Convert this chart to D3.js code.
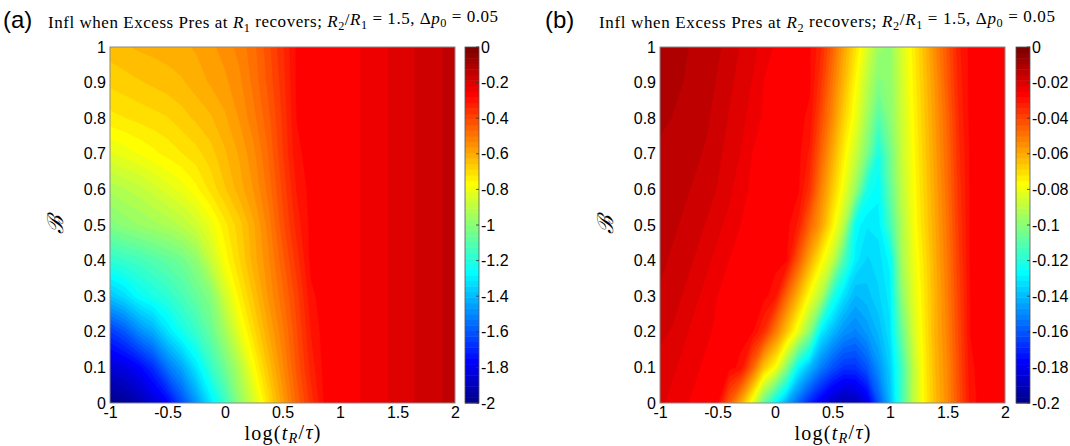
<!DOCTYPE html>
<html>
<head>
<meta charset="utf-8">
<script src="https://cdn.jsdelivr.net/npm/d3@7"></script>
<style>
  body { margin: 0; background: #fff; }
  svg text { font-family: "Liberation Sans", Arial, sans-serif; fill: #000; }
  .serif { font-family: "Liberation Serif", "Times New Roman", serif; }
</style>
</head>
<body>
<svg id="chart" width="1070" height="446"></svg>
<script>
// ---- data ----
// x = log(tR/tau), y = B (rows go from B = 0 upwards)
const xTicks = [-1, -0.5, 0, 0.5, 1, 1.5, 2];
const xTickLabels = ["-1", "-0.5", "0", "0.5", "1", "1.5", "2"];
const yTicks = [0, 0.1, 0.2, 0.3, 0.4, 0.5, 0.6, 0.7, 0.8, 0.9, 1];
const yTickLabels = ["0", "0.1", "0.2", "0.3", "0.4", "0.5", "0.6", "0.7", "0.8", "0.9", "1"];

// panel (a): Excess Pres at R1
const aCols = [-1, -0.875, -0.75, -0.625, -0.5, -0.375, -0.25, -0.125, 0, 0.125, 0.25, 0.375, 0.5,
  0.625, 0.75, 0.875, 1, 1.125, 1.25, 1.375, 1.5, 1.625, 1.75, 1.875, 2];
const aRows = [0, 0.1, 0.2, 0.3, 0.4, 0.5, 0.6, 0.7, 0.8, 0.9, 1];
const aValues = [
  [-2.0, -1.97, -1.92, -1.85, -1.77, -1.62, -1.47, -1.31, -1.16, -0.99, -0.85, -0.71, -0.58, -0.46, -0.36, -0.27, -0.262, -0.255, -0.243, -0.225, -0.208, -0.19, -0.175, -0.158, -0.145],
  [-1.85, -1.82, -1.77, -1.68, -1.54, -1.44, -1.31, -1.17, -1.05, -0.92, -0.77, -0.65, -0.54, -0.43, -0.33, -0.265, -0.262, -0.255, -0.243, -0.225, -0.208, -0.19, -0.175, -0.158, -0.145],
  [-1.66, -1.6, -1.5, -1.43, -1.32, -1.23, -1.16, -1.07, -0.95, -0.81, -0.70, -0.6, -0.51, -0.41, -0.31, -0.262, -0.262, -0.255, -0.243, -0.225, -0.208, -0.19, -0.175, -0.158, -0.145],
  [-1.38, -1.33, -1.26, -1.22, -1.18, -1.13, -1.07, -1.01, -0.86, -0.74, -0.65, -0.56, -0.48, -0.39, -0.29, -0.262, -0.262, -0.255, -0.243, -0.225, -0.208, -0.19, -0.175, -0.158, -0.145],
  [-1.18, -1.16, -1.14, -1.11, -1.08, -1.05, -0.99, -0.88, -0.77, -0.69, -0.61, -0.54, -0.45, -0.36, -0.27, -0.262, -0.262, -0.255, -0.243, -0.225, -0.208, -0.19, -0.175, -0.158, -0.145],
  [-1.02, -0.99, -0.97, -0.95, -0.93, -0.9, -0.86, -0.8, -0.73, -0.67, -0.6, -0.52, -0.42, -0.33, -0.27, -0.262, -0.262, -0.255, -0.243, -0.225, -0.208, -0.19, -0.175, -0.158, -0.145],
  [-0.93, -0.91, -0.89, -0.86, -0.83, -0.8, -0.76, -0.71, -0.66, -0.61, -0.56, -0.49, -0.4, -0.31, -0.268, -0.262, -0.262, -0.255, -0.243, -0.225, -0.208, -0.19, -0.175, -0.158, -0.145],
  [-0.82, -0.8, -0.78, -0.76, -0.74, -0.72, -0.7, -0.67, -0.63, -0.59, -0.54, -0.47, -0.38, -0.29, -0.266, -0.262, -0.262, -0.255, -0.243, -0.225, -0.208, -0.19, -0.175, -0.158, -0.145],
  [-0.73, -0.72, -0.71, -0.7, -0.69, -0.67, -0.65, -0.63, -0.6, -0.56, -0.51, -0.45, -0.37, -0.28, -0.266, -0.262, -0.262, -0.255, -0.243, -0.225, -0.208, -0.19, -0.175, -0.158, -0.145],
  [-0.68, -0.67, -0.66, -0.65, -0.64, -0.63, -0.61, -0.59, -0.57, -0.54, -0.49, -0.43, -0.36, -0.275, -0.266, -0.262, -0.262, -0.255, -0.243, -0.225, -0.208, -0.19, -0.175, -0.158, -0.145],
  [-0.64, -0.63, -0.62, -0.615, -0.61, -0.6, -0.59, -0.57, -0.55, -0.52, -0.48, -0.42, -0.35, -0.275, -0.266, -0.262, -0.262, -0.255, -0.243, -0.225, -0.208, -0.19, -0.175, -0.158, -0.145]
];
const aColorTicks = [0, -0.2, -0.4, -0.6, -0.8, -1, -1.2, -1.4, -1.6, -1.8, -2];
const aColorLabels = ["0", "-0.2", "-0.4", "-0.6", "-0.8", "-1", "-1.2", "-1.4", "-1.6", "-1.8", "-2"];

// panel (b): Excess Pres at R2
const bCols = [-1, -0.9, -0.8, -0.7, -0.6, -0.5, -0.4, -0.3, -0.2, -0.1, 0, 0.1, 0.2, 0.3, 0.4, 0.5,
  0.6, 0.7, 0.8, 0.9, 1, 1.1, 1.2, 1.3, 1.4, 1.5, 1.6, 1.7, 1.8, 1.9, 2];
const bRows = [0, 0.1, 0.2, 0.3, 0.4, 0.5, 0.6, 0.7, 0.8, 0.9, 1];
const bValues = [
  [-0.021, -0.023, -0.0245, -0.0255, -0.026, -0.0275, -0.044, -0.06, -0.08, -0.107, -0.127, -0.143, -0.157, -0.17, -0.18, -0.188, -0.193, -0.191, -0.182, -0.16, -0.14, -0.115, -0.09, -0.075, -0.063, -0.054, -0.042, -0.03, -0.0265, -0.026, -0.026],
  [-0.02, -0.021, -0.023, -0.0245, -0.0255, -0.026, -0.027, -0.029, -0.045, -0.065, -0.077, -0.1, -0.127, -0.14, -0.152, -0.161, -0.167, -0.167, -0.16, -0.148, -0.136, -0.115, -0.09, -0.074, -0.062, -0.053, -0.041, -0.029, -0.0265, -0.026, -0.026],
  [-0.018, -0.019, -0.021, -0.023, -0.0245, -0.0255, -0.026, -0.027, -0.0275, -0.035, -0.05, -0.065, -0.081, -0.1, -0.13, -0.14, -0.148, -0.151, -0.146, -0.14, -0.132, -0.107, -0.086, -0.073, -0.061, -0.052, -0.04, -0.028, -0.0265, -0.026, -0.026],
  [-0.016, -0.017, -0.019, -0.021, -0.023, -0.025, -0.0255, -0.026, -0.0265, -0.027, -0.03, -0.047, -0.062, -0.078, -0.092, -0.12, -0.133, -0.141, -0.139, -0.135, -0.13, -0.1, -0.083, -0.072, -0.061, -0.051, -0.039, -0.028, -0.0265, -0.026, -0.026],
  [-0.015, -0.016, -0.017, -0.019, -0.021, -0.023, -0.025, -0.0255, -0.026, -0.0265, -0.027, -0.028, -0.044, -0.06, -0.075, -0.088, -0.113, -0.13, -0.135, -0.133, -0.127, -0.095, -0.081, -0.071, -0.06, -0.05, -0.038, -0.0275, -0.0265, -0.026, -0.026],
  [-0.014, -0.015, -0.016, -0.017, -0.019, -0.021, -0.023, -0.025, -0.0255, -0.026, -0.0265, -0.027, -0.032, -0.046, -0.058, -0.074, -0.091, -0.126, -0.131, -0.13, -0.114, -0.093, -0.079, -0.069, -0.059, -0.049, -0.037, -0.0275, -0.0265, -0.026, -0.026],
  [-0.013, -0.014, -0.015, -0.016, -0.017, -0.019, -0.021, -0.024, -0.0255, -0.026, -0.0265, -0.027, -0.0275, -0.036, -0.052, -0.066, -0.08, -0.097, -0.122, -0.127, -0.108, -0.09, -0.078, -0.068, -0.058, -0.048, -0.036, -0.0275, -0.0265, -0.026, -0.026],
  [-0.013, -0.0135, -0.014, -0.015, -0.016, -0.018, -0.02, -0.022, -0.025, -0.0255, -0.026, -0.0265, -0.027, -0.032, -0.046, -0.06, -0.074, -0.087, -0.103, -0.122, -0.105, -0.088, -0.077, -0.067, -0.057, -0.047, -0.035, -0.0275, -0.0265, -0.026, -0.026],
  [-0.012, -0.0125, -0.013, -0.014, -0.015, -0.017, -0.019, -0.021, -0.023, -0.0255, -0.026, -0.0265, -0.027, -0.029, -0.041, -0.054, -0.068, -0.08, -0.095, -0.111, -0.1, -0.087, -0.076, -0.066, -0.056, -0.046, -0.034, -0.027, -0.0265, -0.026, -0.026],
  [-0.012, -0.012, -0.0125, -0.013, -0.014, -0.016, -0.018, -0.02, -0.022, -0.025, -0.0255, -0.026, -0.027, -0.0275, -0.037, -0.05, -0.063, -0.076, -0.09, -0.101, -0.099, -0.086, -0.075, -0.065, -0.055, -0.044, -0.033, -0.027, -0.0265, -0.026, -0.026],
  [-0.011, -0.0115, -0.012, -0.013, -0.014, -0.015, -0.017, -0.019, -0.021, -0.023, -0.0255, -0.026, -0.027, -0.0275, -0.034, -0.046, -0.059, -0.071, -0.084, -0.096, -0.098, -0.085, -0.074, -0.064, -0.053, -0.043, -0.032, -0.027, -0.0265, -0.026, -0.026]
];
const bColorTicks = [0, -0.02, -0.04, -0.06, -0.08, -0.1, -0.12, -0.14, -0.16, -0.18, -0.2];
const bColorLabels = ["0", "-0.02", "-0.04", "-0.06", "-0.08", "-0.1", "-0.12", "-0.14", "-0.16", "-0.18", "-0.2"];

// ---- layout ----
const plotTop = 47, plotBottom = 403, plotW = 345, cbW = 14;
const svg = d3.select("#chart");

// MATLAB jet(64)
function jet(m) {
  const n = Math.ceil(m / 4);
  const u = d3.range(1, n + 1).map(i => i / n)
    .concat(d3.range(n - 1).map(() => 1))
    .concat(d3.range(n, 0, -1).map(i => i / n));
  const g0 = Math.ceil(n / 2) - (m % 4 === 1 ? 1 : 0);
  const val = k => (k >= 1 && k <= u.length) ? u[k - 1] : 0;
  const out = [];
  for (let i = 1; i <= m; i++) {
    out.push(d3.rgb(255 * val(i - g0 - n), 255 * val(i - g0), 255 * val(i - g0 + n)).formatHex());
  }
  return out;
}
const jetColors = jet(64);

// text with italic / subscript pieces
function richText(sel, parts, sub) {
  let shift = 0;
  parts.forEach(([t, s]) => {
    const ts = sel.append("tspan").text(t);
    if (s.includes("i")) ts.attr("font-style", "italic");
    const want = s.includes("s") ? sub : 0;
    if (want !== shift) { ts.attr("dy", (want - shift) + "em"); }
    if (s.includes("s")) ts.attr("font-size", "72%");
    shift = want;
  });
}

function drawPanel(cfg) {
  const left = cfg.left;
  const x = d3.scaleLinear().domain([-1, 2]).range([left, left + plotW]);
  const y = d3.scaleLinear().domain([0, 1]).range([plotBottom, plotTop]);
  const nx = cfg.cols.length, ny = cfg.rows.length;
  const dx = cfg.cols[1] - cfg.cols[0], dy = cfg.rows[1] - cfg.rows[0];
  const flat = cfg.values.flat();
  const [cmin, cmax] = cfg.range;
  const step = (cmax - cmin) / 64;

  const clipId = "clip-" + cfg.id;
  svg.append("clipPath").attr("id", clipId)
    .append("rect").attr("x", x(-1)).attr("y", y(1))
    .attr("width", x(2) - x(-1)).attr("height", y(0) - y(1));

  const thresholds = d3.range(64).map(k => k === 0 ? d3.min(flat) - 1 : cmin + k * step);
  const contours = d3.contours().size([nx, ny]).thresholds(thresholds)(flat);
  const proj = d3.geoTransform({
    point(px, py) {
      this.stream.point(x(cfg.cols[0] + (px - 0.5) * dx), y(cfg.rows[0] + (py - 0.5) * dy));
    }
  });
  const path = d3.geoPath(proj);

  svg.append("g").attr("clip-path", `url(#${clipId})`)
    .selectAll("path").data(contours).join("path")
    .attr("d", path)
    .attr("fill", (d, i) => jetColors[i])
    .attr("stroke", (d, i) => jetColors[i])
    .attr("stroke-width", 0.4);

  svg.append("rect")
    .attr("x", x(-1)).attr("y", y(1))
    .attr("width", x(2) - x(-1)).attr("height", y(0) - y(1))
    .attr("fill", "none").attr("stroke", "#8a8a8a").attr("stroke-width", 1);

  // axes labels
  const xa = svg.append("g").attr("transform", `translate(0,${plotBottom})`)
    .call(d3.axisBottom(x).tickValues(xTicks).tickSize(0).tickPadding(4)
      .tickFormat((d, i) => xTickLabels[i]));
  const ya = svg.append("g").attr("transform", `translate(${left},0)`)
    .call(d3.axisLeft(y).tickValues(yTicks).tickSize(0).tickPadding(4)
      .tickFormat((d, i) => yTickLabels[i]));
  [xa, ya].forEach(a => {
    a.select(".domain").remove();
    a.selectAll("text").attr("font-size", 16).attr("fill", "#000")
      .attr("font-family", "'Liberation Sans', Arial, sans-serif");
  });

  // colorbar
  const cbx = cfg.cbLeft;
  const cy = d3.scaleLinear().domain([cmin, cmax]).range([plotBottom, plotTop]);
  svg.append("g").selectAll("rect").data(jetColors).join("rect")
    .attr("x", cbx).attr("width", cbW)
    .attr("y", (d, k) => cy(cmin + (k + 1) * step))
    .attr("height", (d, k) => cy(cmin + k * step) - cy(cmin + (k + 1) * step) + 0.5)
    .attr("fill", d => d);
  svg.append("rect").attr("x", cbx).attr("y", plotTop).attr("width", cbW)
    .attr("height", plotBottom - plotTop)
    .attr("fill", "none").attr("stroke", "#555").attr("stroke-width", 0.8);
  const ca = svg.append("g").attr("transform", `translate(${cbx + cbW},0)`)
    .call(d3.axisRight(cy).tickValues(cfg.cTicks).tickSize(0).tickPadding(2)
      .tickFormat((d, i) => cfg.cLabels[i]));
  ca.select(".domain").remove();
  ca.selectAll("text").attr("font-size", 16).attr("fill", "#000")
    .attr("font-family", "'Liberation Sans', Arial, sans-serif");
  svg.append("g").selectAll("line").data(cfg.cTicks).join("line")
    .attr("x1", cbx + cbW - 3).attr("x2", cbx + cbW)
    .attr("y1", d => cy(d)).attr("y2", d => cy(d))
    .attr("stroke", "#333").attr("stroke-width", 0.8);

  // titles
  svg.append("text").attr("x", cfg.tagX).attr("y", 28).attr("font-size", 24).text(cfg.tag);
  const t = svg.append("text").attr("class", "serif").attr("x", cfg.titleX).attr("y", 28)
    .attr("font-size", 17).attr("textLength", cfg.titleLen).attr("lengthAdjust", "spacing");
  richText(t, cfg.titleParts, 0.3);

  const xl = svg.append("text").attr("class", "serif")
    .attr("x", (x(-1) + x(2)) / 2).attr("y", 440)
    .attr("text-anchor", "middle").attr("font-size", 20)
    .attr("textLength", 76).attr("lengthAdjust", "spacing");
  richText(xl, [["log(", ""], ["t", "i"], ["R", "is"], ["/", ""], ["τ", "i"], [")", ""]], 0.22);

  svg.append("text").attr("class", "serif")
    .attr("transform", `translate(${left - 47},225) rotate(-90)`)
    .attr("text-anchor", "middle").attr("font-size", 22).attr("font-style", "italic")
    .text("ℬ");
}

drawPanel({
  id: "a", left: 110, cbLeft: 465, cols: aCols, rows: aRows, values: aValues,
  range: [-2, 0], cTicks: aColorTicks, cLabels: aColorLabels,
  tag: "(a)", tagX: 3, titleX: 48, titleLen: 450,
  titleParts: [["Infl when Excess Pres at ", ""], ["R", "i"], ["1", "s"], [" recovers; ", ""],
    ["R", "i"], ["2", "s"], ["/", ""], ["R", "i"], ["1", "s"], [" = 1.5, Δ", ""], ["p", "i"],
    ["0", "s"], [" = 0.05", ""]]
});
drawPanel({
  id: "b", left: 660, cbLeft: 1016, cols: bCols, rows: bRows, values: bValues,
  range: [-0.2, 0], cTicks: bColorTicks, cLabels: bColorLabels,
  tag: "(b)", tagX: 545, titleX: 599, titleLen: 456,
  titleParts: [["Infl when Excess Pres at ", ""], ["R", "i"], ["2", "s"], [" recovers; ", ""],
    ["R", "i"], ["2", "s"], ["/", ""], ["R", "i"], ["1", "s"], [" = 1.5, Δ", ""], ["p", "i"],
    ["0", "s"], [" = 0.05", ""]]
});
</script>
</body>
</html>
